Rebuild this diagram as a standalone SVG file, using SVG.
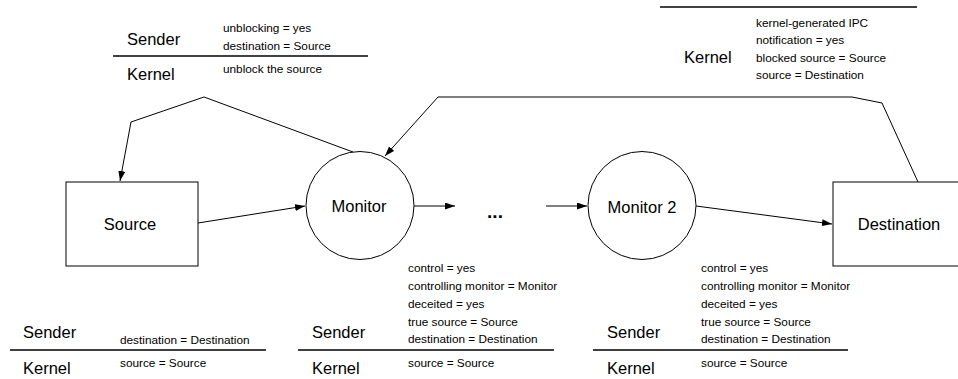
<svg xmlns="http://www.w3.org/2000/svg" width="958" height="379" viewBox="0 0 958 379">
<style>
  .big{font-family:"Liberation Sans",Arial,sans-serif;font-size:16.5px;fill:#000}
  .sm{font-family:"Liberation Sans",Arial,sans-serif;font-size:11.8px;fill:#000}
  .node{fill:#fff;stroke:#000;stroke-width:1}
  .conn{fill:none;stroke:#000;stroke-width:1}
  .sep{stroke:#000;stroke-width:1.3}
</style>
<defs>
  <marker id="ah" markerUnits="userSpaceOnUse" markerWidth="11" markerHeight="8" refX="10" refY="3.5" orient="auto">
    <path d="M0,0 L10,3.5 L0,7 z" fill="#000"/>
  </marker>
</defs>
<rect width="958" height="379" fill="#fff"/>

<g id="connectors">
  <line class="conn" x1="198" y1="223" x2="305" y2="206" marker-end="url(#ah)"/>
  <line class="conn" x1="414" y1="206" x2="455" y2="206" marker-end="url(#ah)"/>
  <line class="conn" x1="546" y1="206" x2="587" y2="206" marker-end="url(#ah)"/>
  <line class="conn" x1="696" y1="206" x2="832" y2="224" marker-end="url(#ah)"/>
  <polyline class="conn" points="353,152 204,97 131,122 120,181" marker-end="url(#ah)"/>
  <polyline class="conn" points="918,182 882,103 852,97 438,97 385,156" marker-end="url(#ah)"/>
</g>

<g id="source">
  <rect class="node" x="66" y="182" width="132" height="84"/>
  <text class="big" x="130" y="230" text-anchor="middle">Source</text>
</g>
<g id="monitor">
  <circle class="node" cx="360" cy="205.5" r="54"/>
  <text class="big" x="359" y="212" text-anchor="middle">Monitor</text>
</g>
<g id="dots">
  <text x="495" y="218" text-anchor="middle" style="font-family:'Liberation Sans',Arial,sans-serif;font-size:19px;font-weight:bold">...</text>
</g>
<g id="monitor2">
  <circle class="node" cx="642" cy="205.5" r="54"/>
  <text class="big" x="642" y="213" text-anchor="middle">Monitor 2</text>
</g>
<g id="destination">
  <rect class="node" x="833" y="182" width="140" height="84"/>
  <text class="big" x="899" y="230" text-anchor="middle">Destination</text>
</g>

<g id="label-top-left">
  <text class="big" x="127" y="45">Sender</text>
  <text class="sm" x="223" y="32">unblocking = yes</text>
  <text class="sm" x="223" y="49.5">destination = Source</text>
  <line class="sep" x1="113" y1="56" x2="368" y2="56"/>
  <text class="big" x="127" y="80">Kernel</text>
  <text class="sm" x="223" y="72.5">unblock the source</text>
</g>

<g id="label-top-right">
  <line class="sep" x1="660" y1="7" x2="917" y2="7"/>
  <text class="big" x="684" y="63">Kernel</text>
  <text class="sm" x="756" y="26.5">kernel-generated IPC</text>
  <text class="sm" x="756" y="44">notification = yes</text>
  <text class="sm" x="756" y="61.5">blocked source = Source</text>
  <text class="sm" x="756" y="79">source = Destination</text>
</g>

<g id="label-bottom-left">
  <text class="big" x="23" y="338">Sender</text>
  <text class="sm" x="120" y="344">destination = Destination</text>
  <line class="sep" x1="10" y1="350" x2="266" y2="350"/>
  <text class="big" x="23" y="374">Kernel</text>
  <text class="sm" x="120" y="367">source = Source</text>
</g>

<g id="label-bottom-middle">
  <text class="sm" x="408" y="272">control = yes</text>
  <text class="sm" x="408" y="290">controlling monitor = Monitor</text>
  <text class="sm" x="408" y="307.5">deceited = yes</text>
  <text class="sm" x="408" y="325.5">true source = Source</text>
  <text class="sm" x="408" y="343">destination = Destination</text>
  <text class="big" x="312" y="338">Sender</text>
  <line class="sep" x1="298" y1="350" x2="554" y2="350"/>
  <text class="big" x="312" y="374">Kernel</text>
  <text class="sm" x="408" y="367">source = Source</text>
</g>

<g id="label-bottom-right">
  <text class="sm" x="701" y="272">control = yes</text>
  <text class="sm" x="701" y="290">controlling monitor = Monitor</text>
  <text class="sm" x="701" y="307.5">deceited = yes</text>
  <text class="sm" x="701" y="325.5">true source = Source</text>
  <text class="sm" x="701" y="343">destination = Destination</text>
  <text class="big" x="607" y="338">Sender</text>
  <line class="sep" x1="593" y1="350" x2="848" y2="350"/>
  <text class="big" x="607" y="374">Kernel</text>
  <text class="sm" x="701" y="367">source = Source</text>
</g>
</svg>
